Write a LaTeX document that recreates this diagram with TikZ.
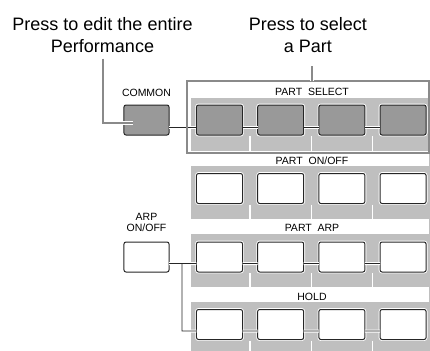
\documentclass[tikz,border=0pt]{standalone}
\usepackage{fontspec}
\setmainfont{Liberation Sans}
\definecolor{panelgray}{HTML}{BFBFBF}
\definecolor{btngray}{HTML}{999999}
\definecolor{framegray}{HTML}{8A8A8A}
\begin{document}
\begin{tikzpicture}[x=1bp,y=-1bp,
  btn/.style={draw=black!85, line width=1bp, rounded corners=2bp, minimum width=46bp,
    minimum height=30bp, inner sep=0pt, outer sep=0pt,
    preaction={draw=white, line width=2.8bp}, fill=white},
  darkbtn/.style={btn, fill=btngray},
  lbl/.style={font=\fontsize{10.5bp}{10.3bp}\selectfont, inner sep=0pt},
  bigtxt/.style={font=\fontsize{18bp}{22bp}\selectfont, align=center, inner sep=0pt},
  conn/.style={draw=black!85, line width=0.9bp, preaction={draw=white, line width=3bp}},
  callout/.style={draw=framegray, line width=2bp, preaction={draw=white, line width=3.6bp}},
  divider/.style={draw=white, line width=1.5bp},
  framebox/.style={draw=framegray, line width=2bp, minimum width=242bp,
    minimum height=71.5bp, inner sep=0pt, outer sep=0pt}]
\useasboundingbox (0,0) rectangle (430,351);

% panels
\fill[panelgray] (190.5,97.5) rectangle (430,150.5);
\fill[panelgray] (190.5,166) rectangle (430,219);
\fill[panelgray] (190.5,234) rectangle (430,287);
\fill[panelgray] (190.5,302) rectangle (430,351);
\fill[panelgray] (428.5,152) rectangle (430,351);

% dividers
\foreach \dx in {250.1,311.3,372.5}{
  \draw[divider] (\dx,136) -- (\dx,150.5);
  \draw[divider] (\dx,204.5) -- (\dx,219);
  \draw[divider] (\dx,273) -- (\dx,287);
  \draw[divider] (\dx,340.5) -- (\dx,351);
}

% texts
\node[bigtxt, anchor=north] (t1) at (102.5,17) {Press to edit the entire\\Performance};
\node[bigtxt, anchor=north] (t2) at (308,17) {Press to select\\a Part};

\node[lbl, anchor=base] (lcom) at (146.5,96.5) {COMMON};
\node[lbl, anchor=base] (lsel) at (312,95.5) {PART\ \ SELECT};
\node[lbl, anchor=base] (lonoff) at (312,164) {PART\ \ ON/OFF};
\node[lbl, anchor=base] (larp) at (312,231.5) {PART\ \ ARP};
\node[lbl, anchor=base] (lhold) at (312,300.5) {HOLD};
\node[lbl, anchor=south, align=center] (larponoff) at (146.5,231.5) {ARP\\ON/OFF};

% buttons
\node[darkbtn, minimum width=45bp] (com) at (146.5,120) {};
\node[btn, minimum width=45bp] (arp) at (146.5,257) {};
\foreach \r/\y/\st in {1/120/darkbtn,2/188.5/btn,3/257/btn,4/324.5/btn}{
  \foreach \c/\x in {1/219.5,2/280.7,3/341.9,4/403.1}{
    \node[\st] (b\r\c) at (\x,\y) {};
  }
}

% connectors
\draw[conn] ([yshift=-7.5bp]com.east) -- ([yshift=-7.5bp]b11.west)
  ([yshift=-7.5bp]b11.east) -- ([yshift=-7.5bp]b12.west)
  ([yshift=-7.5bp]b12.east) -- ([yshift=-7.5bp]b13.west)
  ([yshift=-7.5bp]b13.east) -- ([yshift=-7.5bp]b14.west);
\coordinate (jn) at (182,263.5);
\draw[conn] ([yshift=-6.5bp]arp.east) -- (jn) |- ([yshift=-6.5bp]b41.west)
  (jn) -- ([yshift=-6.5bp]b31.west)
  ([yshift=-6.5bp]b31.east) -- ([yshift=-6.5bp]b32.west)
  ([yshift=-6.5bp]b32.east) -- ([yshift=-6.5bp]b33.west)
  ([yshift=-6.5bp]b33.east) -- ([yshift=-6.5bp]b34.west)
  ([yshift=-6.5bp]b41.east) -- ([yshift=-6.5bp]b42.west)
  ([yshift=-6.5bp]b42.east) -- ([yshift=-6.5bp]b43.west)
  ([yshift=-6.5bp]b43.east) -- ([yshift=-6.5bp]b44.west);

% frame around PART SELECT
\node[framebox] (frame) at (308,116.75) {};

% callouts
\coordinate (cm) at (133,123);
\draw[callout] ([yshift=-6bp]t1.south) |- (cm);
\coordinate (ct) at (312,66);
\draw[callout] (ct) -- (ct |- frame.north);
\end{tikzpicture}
\end{document}
